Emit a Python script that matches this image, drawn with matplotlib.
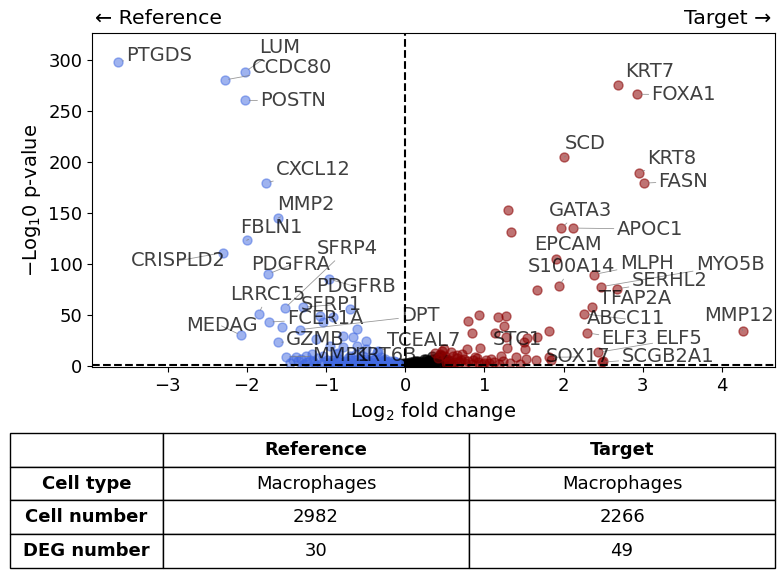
import numpy as np
import matplotlib
matplotlib.use('Agg')
import matplotlib.pyplot as plt

# ---------------- data ----------------
# significant genes, higher in Reference (negative log2 FC)
ref_genes = ['PTGDS', 'LUM', 'CCDC80', 'POSTN', 'CXCL12', 'MMP2', 'FBLN1', 'CRISPLD2',
             'PDGFRA', 'SFRP4', 'PDGFRB', 'LRRC15', 'SFRP1', 'FCER1A', 'MEDAG', 'GZMB',
             'DPT', 'MMP1', 'TCEAL7', 'KRT6B']
ref_lfc = [-3.62, -2.02, -2.28, -2.02, -1.76, -1.60, -2.00, -2.30,
           -1.73, -1.52, -0.96, -1.85, -1.29, -1.72, -2.07, -1.61,
           -1.33, -1.51, -0.34, -0.25]
ref_p = [298, 288, 280, 260, 179, 145, 123, 111,
         90, 56.5, 85, 51, 57.5, 43, 30, 23,
         35.6, 9, 15, 4]

# unlabeled points on the Reference side
ref_x_other = [-1.55, -1.08, -0.91, -0.70, -0.61, -0.78, -0.66, -0.49, -1.04, -1.12,
               -0.95, -0.78, -0.61, -0.49, -0.36, -1.25, -1.04, -0.87, -0.70, -0.53,
               -1.38, -0.49, -1.45, -1.35, -1.28, -1.20, -1.15, -1.10, -1.02, -0.97,
               -0.92, -0.88, -0.83, -0.80, -0.76, -0.72, -0.68, -0.64, -0.60, -0.57,
               -0.54, -0.50, -0.47, -0.44, -0.40, -0.37, -0.33, -0.30, -0.27, -0.24,
               -0.21, -0.18, -0.15, -0.12, -0.10, -0.85, -0.62, -0.42, -0.30, -1.18,
               -1.42, -1.32, -1.24, -1.16, -1.06, -0.99, -0.94, -0.90, -0.86, -0.81,
               -0.74, -0.70, -0.66, -0.59, -0.55, -0.52, -0.46, -0.42, -0.38, -0.35,
               -0.31, -0.28, -0.25, -0.22, -0.19, -0.16, -0.13, -0.11, -0.08, -0.06,
               -1.30, -1.12, -0.96, -0.79, -0.63, -0.45, -0.26, -0.14, -0.72, -0.58]
ref_p_other = [38.5, 49, 47.7, 55.9, 36.3, 29.7, 28.1, 24.8, 42.8, 26.5,
               19.9, 18.3, 19.9, 16.7, 13.4, 10.1, 10.1, 11.8, 10.1, 10.1,
               8.5, 7, 3, 5, 2, 6, 3, 8, 4, 2,
               6, 3, 7, 2, 5, 8, 3, 6, 2, 4,
               7, 3, 5, 2, 6, 4, 2, 5, 3, 2,
               4, 1.5, 3, 2, 1, 13, 12, 9, 9, 12,
               6, 7, 4, 5, 2, 6, 4, 1.5, 5, 4,
               2, 6, 1.5, 7, 2, 5, 4, 3, 7, 1.5,
               3, 6, 4.5, 1, 5, 3, 1.5, 4, 2, 0.8,
               1, 1, 3, 3.5, 3, 1, 7, 5, 1, 1]

# significant genes, higher in Target (positive log2 FC)
tgt_genes = ['KRT7', 'FOXA1', 'SCD', 'KRT8', 'FASN', 'GATA3', 'APOC1', 'EPCAM',
             'S100A14', 'MLPH', 'MYO5B', 'SERHL2', 'TFAP2A', 'ABCC11', 'MMP12', 'ELF3',
             'ELF5', 'STC1', 'SOX17', 'SCGB2A1']
tgt_lfc = [2.69, 2.93, 2.01, 2.95, 3.02, 1.97, 2.12, 1.91,
           1.94, 2.38, 2.47, 2.67, 2.36, 2.26, 4.26, 2.30,
           2.44, 1.50, 1.82, 2.48]
tgt_p = [275.5, 266, 204.6, 189, 179, 135, 135, 105,
         78, 89.5, 77.5, 75.5, 57.5, 51, 34.6, 32.4,
         13.4, 23, 8.5, 3.6]

tgt_x_other = [1.30, 1.34, 1.66, 0.80, 0.93, 1.17, 1.27, 1.25, 0.85, 1.13,
               1.27, 1.54, 1.66, 1.82, 1.51, 1.29, 0.95, 0.78, 1.21, 1.40,
               1.52, 1.65, 1.08, 0.91, 0.74, 0.61, 0.49, 0.44, 1.84, 2.50,
               0.52, 0.56, 0.60, 0.65, 0.68, 0.72, 0.76, 0.80, 0.84, 0.88,
               0.92, 0.97, 1.02, 1.06, 1.12, 1.18, 1.24, 1.33, 1.45, 0.58,
               0.66, 0.70, 0.38, 0.42, 0.46, 0.50, 0.54, 0.63, 0.86, 1.00]
tgt_p_other = [153, 131, 74.5, 44.4, 50, 48.3, 49.3, 39.5, 32, 32,
               28.7, 27.5, 28.7, 34, 16.7, 17.3, 17.3, 16.7, 10, 8.5,
               6.9, 5.9, 6.9, 7.5, 6.9, 10.1, 16.7, 11.8, 5.9, 5.2,
               3, 6, 2, 8, 4, 12, 3, 5, 2, 9,
               4, 2, 6, 3, 4, 2, 5, 3, 2, 14,
               11, 6, 13, 8, 15, 10, 4, 4, 6, 3]

# not significant
ns_lfc = [-0.08, -0.05, -0.03, 0.00, 0.02, 0.03, 0.05, 0.07, 0.08, 0.10,
          0.12, 0.13, 0.15, 0.17, 0.18, 0.20, 0.22, 0.23, 0.25, 0.27,
          0.28, 0.30, 0.32, 0.33, 0.35, 0.36, 0.38, 0.40, 0.41, 0.43,
          0.45, 0.46, 0.48, 0.50, 0.52, 0.06, 0.14, 0.24, 0.34, 0.44,
          -0.10, -0.02, 0.04, 0.09, 0.16, 0.21, 0.26, 0.31, 0.37, 0.42,
          0.11, 0.19, 0.29, 0.39, 0.47, 0.01, -0.06, 0.55, 0.58, 0.53]
ns_p = [0.5, 1, 0.3, 0.8, 1.5, 0.2, 2, 0.6, 2.5, 1.2,
        3, 0.4, 2, 3.5, 1, 4, 2.5, 0.5, 5, 3,
        1.5, 6, 4, 2, 7, 0.8, 5, 8, 3, 6,
        9, 1.5, 4, 7, 2.5, 3.5, 4.5, 6.5, 9.5, 11,
        1.5, 2.5, 3, 1.5, 5, 1.5, 6.5, 3, 2, 4.5,
        4.5, 2.5, 4.5, 3.5, 10, 3, 2.5, 5, 2, 1]

table_rows = ['', 'Cell type', 'Cell number', 'DEG number']
table_ref = ['Reference', 'Macrophages', '2982', '30']
table_tgt = ['Target', 'Macrophages', '2266', '49']

# label positions (text anchor, left / centre)
ref_text_xy = [(-3.52, 304), (-1.84, 312), (-1.93, 292), (-1.83, 260), (-1.63, 192),
               (-1.61, 158), (-2.08, 136), (-3.46, 103), (-1.94, 99), (-1.11, 115),
               (-1.12, 77.5), (-2.21, 69.6), (-1.32, 59.8), (-1.49, 46), (-2.77, 39.2),
               (-1.50, 25.5), (-0.05, 49), (-1.17, 9.8), (-0.23, 24.5), (-0.64, 9.8)]
tgt_text_xy = [(2.78, 288), (3.11, 265.7), (2.01, 217.6), (3.06, 203), (3.20, 181),
               (1.82, 152), (2.67, 134), (1.63, 118.6), (1.55, 97), (2.71, 100),
               (3.67, 99), (2.86, 83.3), (2.45, 65.7), (2.29, 46), (3.77, 49),
               (2.48, 26.5), (3.16, 26.5), (1.11, 25.5), (1.78, 8.8), (2.73, 8.8)]

plt.rcParams['font.size'] = 13

fig = plt.figure(figsize=(7.84, 5.77), dpi=100)
ax = fig.add_axes([0.1177, 0.364, 0.8708, 0.5788])

ax.scatter(ns_lfc, ns_p, s=42, c='black', alpha=0.6, zorder=2)
ax.scatter(ref_lfc + ref_x_other, ref_p + ref_p_other, s=42, c='royalblue', alpha=0.5, zorder=2)
ax.scatter(tgt_lfc + tgt_x_other, tgt_p + tgt_p_other, s=42, c='darkred', alpha=0.55, zorder=2)

ax.axvline(0, color='black', ls='--', lw=1.5, zorder=3)
ax.axhline(-np.log10(0.05), color='black', ls='--', lw=1.5, zorder=3)

for genes, xs, ys, txy in [(ref_genes, ref_lfc, ref_p, ref_text_xy),
                           (tgt_genes, tgt_lfc, tgt_p, tgt_text_xy)]:
    for g, x, y, (tx, ty) in zip(genes, xs, ys, txy):
        ax.annotate(g, xy=(x, y), xytext=(tx, ty), ha='left', va='center',
                    fontsize=14, color='black', alpha=0.75, zorder=4,
                    arrowprops=dict(arrowstyle='-', color='gray', lw=0.6, alpha=0.8,
                                    shrinkA=0, shrinkB=3))

ax.set_xlim(-3.95, 4.67)
ax.set_ylim(-1, 326)
ax.set_xlabel('Log$_2$ fold change', fontsize=14)
ax.set_ylabel(r'$-$Log$_10$ p-value', fontsize=14)
ax.tick_params(labelsize=13)

fig.text(95 / 784, 1 - 18 / 577, '\u2190 Reference', ha='left', va='center', fontsize=14.75)
fig.text(771 / 784, 1 - 18 / 577, 'Target \u2192', ha='right', va='center', fontsize=14.75)

cells = [[r, a, b] for r, a, b in zip(table_rows, table_ref, table_tgt)]
tab = fig.add_axes([0.0128, 0.0156, 0.9758, 0.234])
tab.axis('off')
t = tab.table(cellText=cells, cellLoc='center', colWidths=[0.2, 0.4, 0.4],
              bbox=[0, 0, 1, 1])
t.auto_set_font_size(False)
for (r, c), cell in t.get_celld().items():
    cell.set_fontsize(13)
    cell.set_linewidth(1.0)
    if r == 0 or c == 0:
        cell.get_text().set_fontweight('bold')

fig.savefig('out.png', dpi=100)
